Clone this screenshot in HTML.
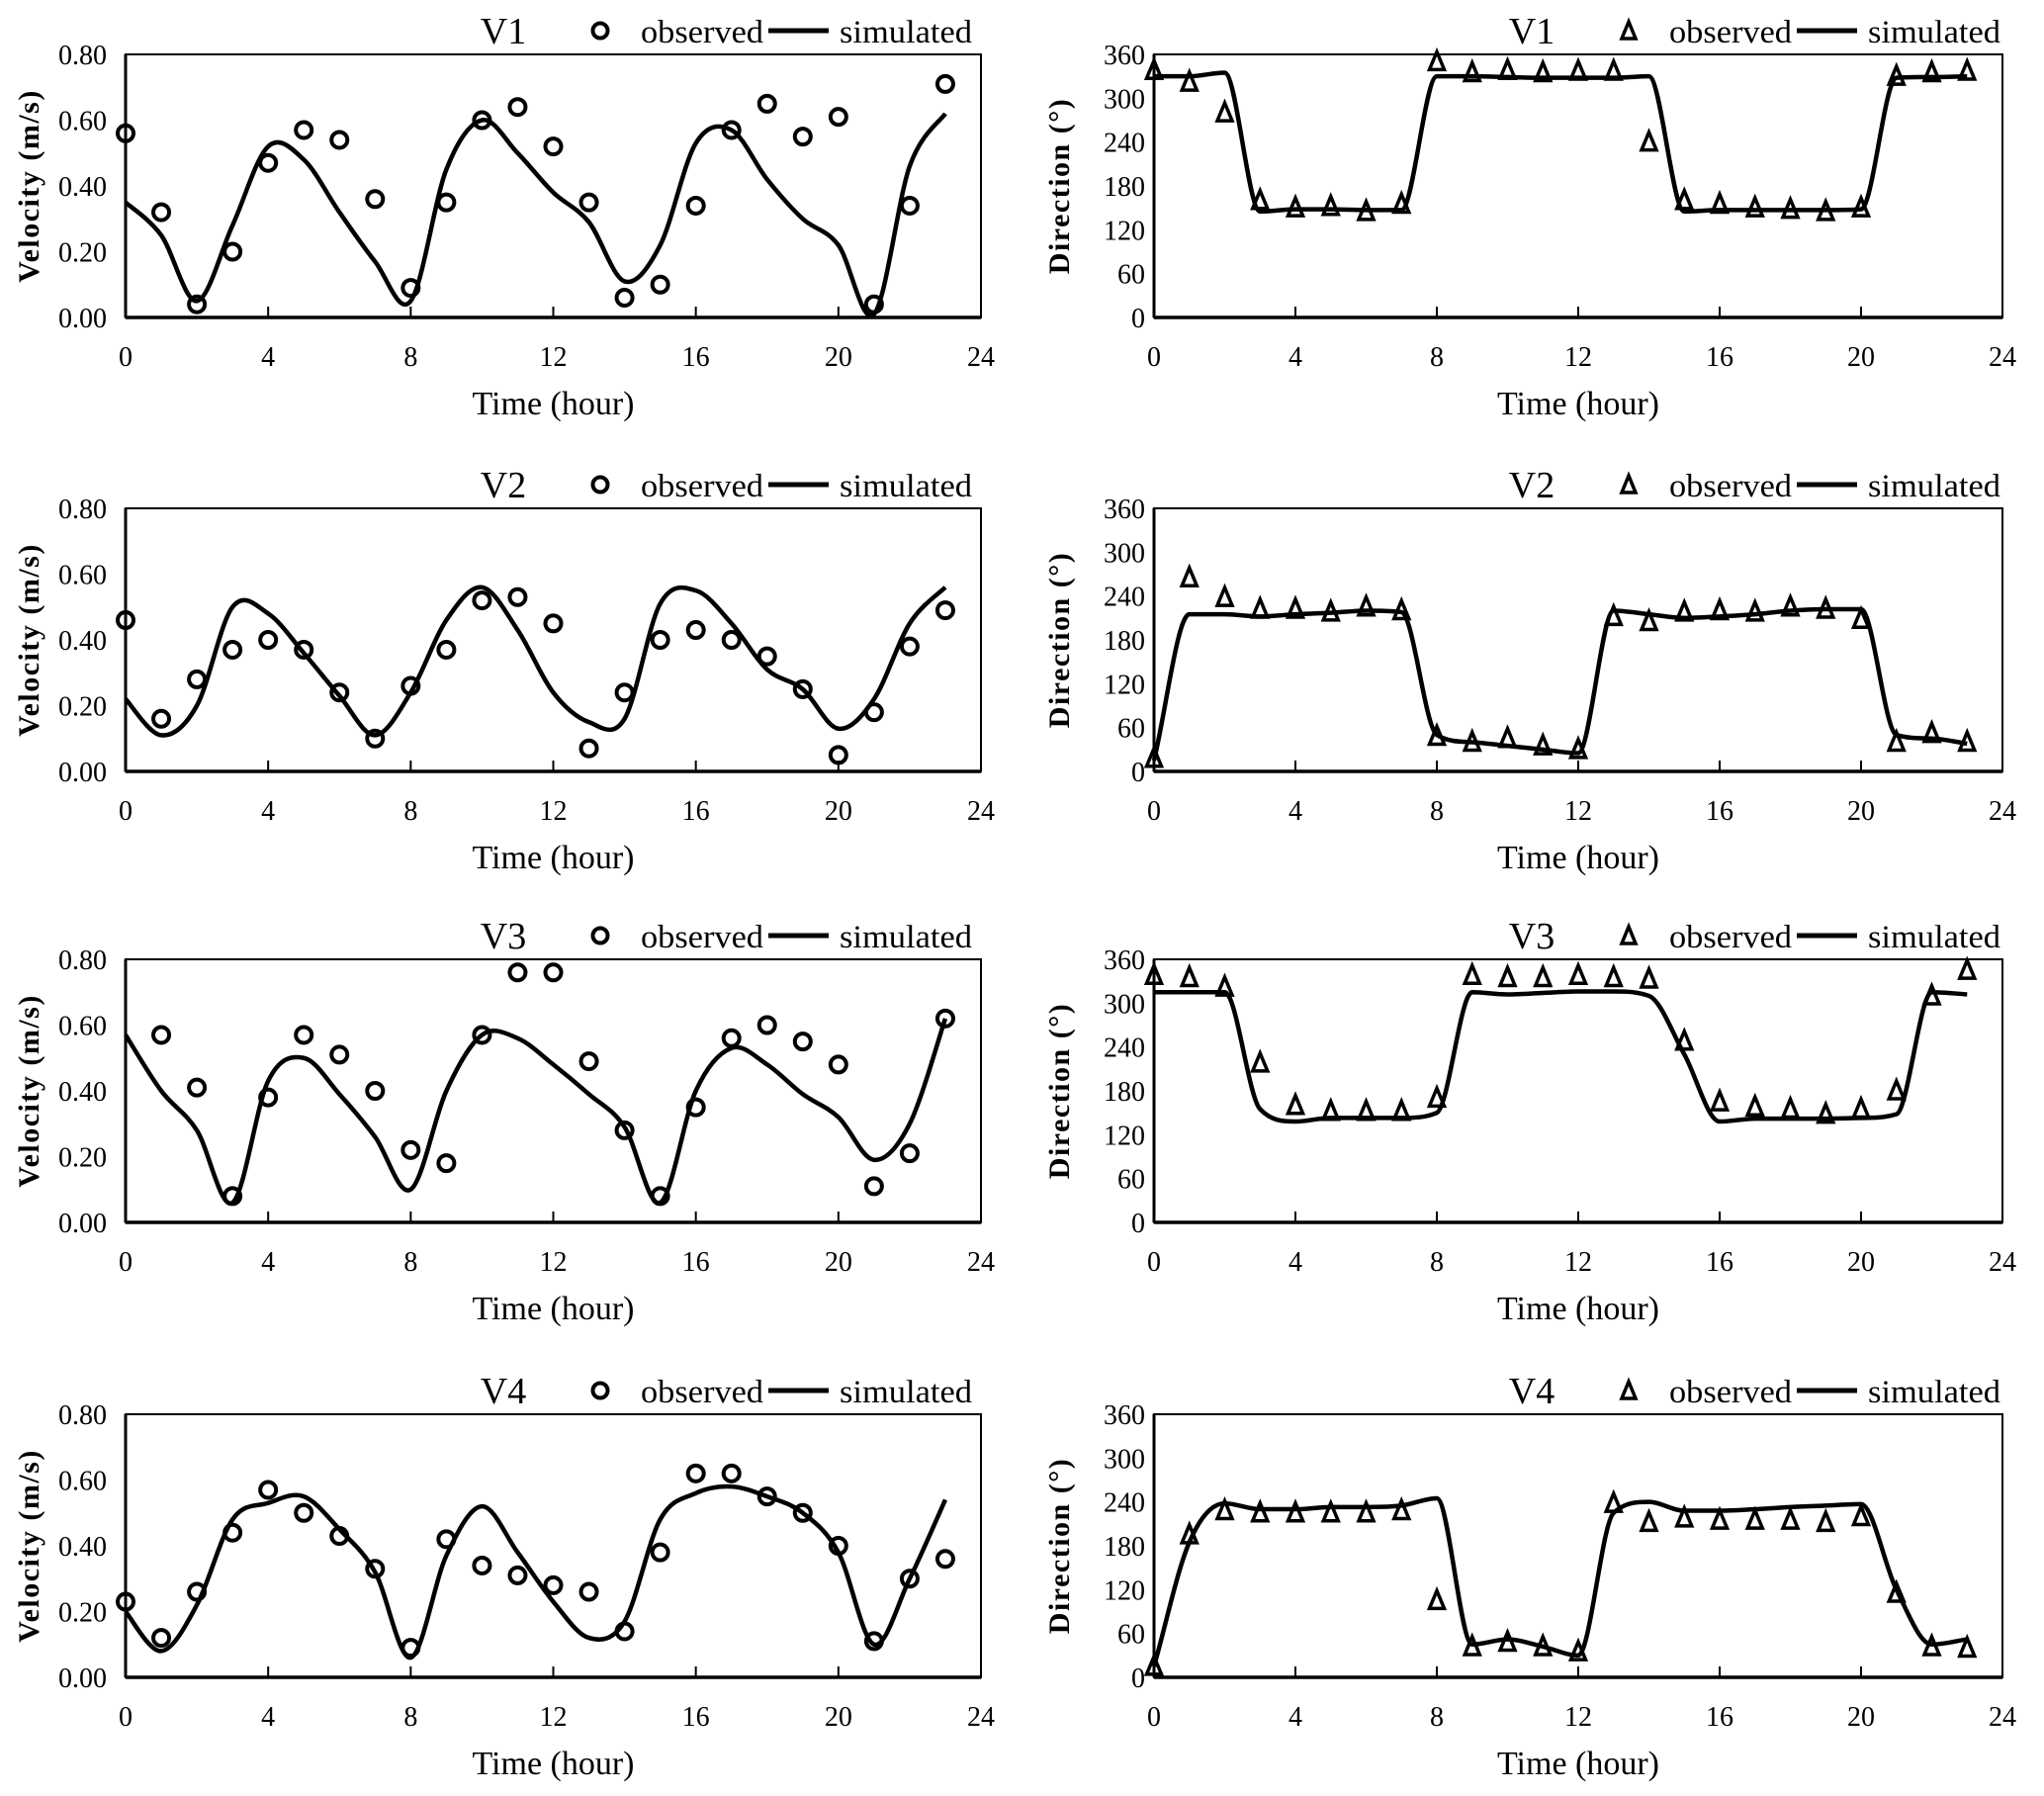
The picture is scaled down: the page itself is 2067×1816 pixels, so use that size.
<!DOCTYPE html>
<html><head><meta charset="utf-8"><style>
html,body{margin:0;padding:0;background:#fff}
svg{display:block}
text{font-family:"Liberation Serif",serif;fill:#000}
</style></head><body>
<svg id="chart" width="2067" height="1816" viewBox="0 0 2067 1816" xmlns="http://www.w3.org/2000/svg"></svg>
<script>
const hours = [0,1,2,3,4,5,6,7,8,9,10,11,12,13,14,15,16,17,18,19,20,21,22,23];
const stationNames = ["V1","V2","V3","V4"];
const velTicks = ["0.00","0.20","0.40","0.60","0.80"];
const dirTicks = ["0","60","120","180","240","300","360"];
const xTicks = [0,4,8,12,16,20,24];

const velObsV1 = [0.56,0.32,0.04,0.20,0.47,0.57,0.54,0.36,0.09,0.35,0.60,0.64,0.52,0.35,0.06,0.10,0.34,0.57,0.65,0.55,0.61,0.04,0.34,0.71];
const velSimV1 = [0.35,0.25,0.05,0.28,0.52,0.48,0.32,0.17,0.05,0.45,0.60,0.50,0.38,0.29,0.11,0.22,0.53,0.57,0.42,0.30,0.22,0.01,0.46,0.62];
const velObsV2 = [0.46,0.16,0.28,0.37,0.40,0.37,0.24,0.10,0.26,0.37,0.52,0.53,0.45,0.07,0.24,0.40,0.43,0.40,0.35,0.25,0.05,0.18,0.38,0.49];
const velSimV2 = [0.22,0.11,0.20,0.50,0.48,0.36,0.23,0.11,0.24,0.46,0.56,0.43,0.24,0.15,0.16,0.51,0.55,0.45,0.31,0.25,0.13,0.22,0.45,0.56];
const velObsV3 = [null,0.57,0.41,0.08,0.38,0.57,0.51,0.40,0.22,0.18,0.57,0.76,0.76,0.49,0.28,0.08,0.35,0.56,0.60,0.55,0.48,0.11,0.21,0.62];
const velSimV3 = [0.57,0.40,0.28,0.06,0.43,0.50,0.39,0.26,0.10,0.40,0.57,0.56,0.48,0.39,0.29,0.06,0.40,0.53,0.48,0.39,0.32,0.19,0.30,0.62];
const velObsV4 = [0.23,0.12,0.26,0.44,0.57,0.50,0.43,0.33,0.09,0.42,0.34,0.31,0.28,0.26,0.14,0.38,0.62,0.62,0.55,0.50,0.40,0.11,0.30,0.36];
const velSimV4 = [0.20,0.08,0.22,0.48,0.53,0.55,0.45,0.32,0.06,0.37,0.52,0.38,0.23,0.12,0.17,0.48,0.56,0.58,0.55,0.50,0.38,0.10,0.30,0.54];

const dirObsV1 = [338,322,280,160,150,152,145,155,350,335,338,335,337,337,240,160,155,150,148,145,150,330,335,337];
const dirSimV1 = [330,330,335,145,148,148,147,147,330,330,329,328,328,328,330,145,147,147,147,147,148,328,329,330];
const dirObsV2 = [18,265,238,222,222,218,225,220,48,40,45,35,30,212,205,218,220,218,225,222,208,40,52,40];
const dirSimV2 = [15,215,215,212,215,217,220,218,50,40,35,30,25,220,215,210,212,215,220,222,222,50,45,38];
const dirObsV3 = [338,335,322,218,160,152,152,152,170,338,335,335,338,335,333,248,165,158,155,148,155,180,310,345];
const dirSimV3 = [315,315,315,155,138,143,143,143,150,315,312,314,316,316,310,230,138,142,142,142,143,148,315,312];
const dirObsV4 = [15,195,228,225,225,225,225,228,105,42,48,42,35,238,212,218,215,215,215,212,220,115,42,40];
const dirSimV4 = [15,185,238,230,230,233,233,235,245,45,52,42,30,225,240,228,228,230,233,235,237,120,45,52];

const velObs = [velObsV1,velObsV2,velObsV3,velObsV4];
const velSim = [velSimV1,velSimV2,velSimV3,velSimV4];
const dirObs = [dirObsV1,dirObsV2,dirObsV3,dirObsV4];
const dirSim = [dirSimV1,dirSimV2,dirSimV3,dirSimV4];

const NS = "http://www.w3.org/2000/svg";
const svg = document.getElementById("chart");
function mk(tag, attrs, parent){
  const e = document.createElementNS(NS, tag);
  for (const k in attrs) e.setAttribute(k, attrs[k]);
  (parent||svg).appendChild(e);
  return e;
}
const rowTops = [55, 514, 970, 1430];
const PH = 266;

function catmull(P){
  let d = `M${P[0][0]},${P[0][1]}`;
  for (let i=0;i<P.length-1;i++){
    const p0=P[Math.max(0,i-1)], p1=P[i], p2=P[i+1], p3=P[Math.min(P.length-1,i+2)];
    const c1=[p1[0]+(p2[0]-p0[0])/6, p1[1]+(p2[1]-p0[1])/6];
    const c2=[p2[0]-(p3[0]-p1[0])/6, p2[1]-(p3[1]-p1[1])/6];
    d += ` C${c1[0]},${c1[1]} ${c2[0]},${c2[1]} ${p2[0]},${p2[1]}`;
  }
  return d;
}
function monotone(P){
  const n=P.length, dx=[], s=[], m=[];
  for (let i=0;i<n-1;i++){ dx[i]=P[i+1][0]-P[i][0]; s[i]=(P[i+1][1]-P[i][1])/dx[i]; }
  m[0]=s[0]; m[n-1]=s[n-2];
  for (let i=1;i<n-1;i++){ m[i] = (s[i-1]*s[i]<=0) ? 0 : (s[i-1]+s[i])/2; }
  for (let i=0;i<n-1;i++){
    if (s[i]===0){ m[i]=0; m[i+1]=0; continue; }
    const a=m[i]/s[i], b=m[i+1]/s[i], h=a*a+b*b;
    if (h>9){ const t=3/Math.sqrt(h); m[i]=t*a*s[i]; m[i+1]=t*b*s[i]; }
  }
  let d = `M${P[0][0]},${P[0][1]}`;
  for (let i=0;i<n-1;i++){
    const h=dx[i]/3;
    d += ` C${P[i][0]+h},${P[i][1]+m[i]*h} ${P[i+1][0]-h},${P[i+1][1]-m[i+1]*h} ${P[i+1][0]},${P[i+1][1]}`;
  }
  return d;
}

function panel(row, isDir){
  const x0 = isDir ? 1167 : 127, x1 = isDir ? 2025 : 992;
  const top = rowTops[row], bot = top + PH;
  const ymax = isDir ? 360 : 0.8;
  const xs = h => x0 + (h/24)*(x1-x0);
  const ys = v => bot - (v/ymax)*(bot-top);
  const g = mk("g", {});
  
  
  const frame = mk("rect", {x:x0,y:top,width:x1-x0,height:PH,fill:"none",stroke:"#000","stroke-width":2}, g);
  
  
  const xa = mk("line", {x1:x0,y1:bot,x2:x1,y2:bot,stroke:"#000","stroke-width":3.5}, g);
  
  
  const ya = mk("line", {x1:x0,y1:top,x2:x0,y2:bot,stroke:"#000","stroke-width":3}, g);
  
  
  xTicks.forEach(t => {
    if (t>0 && t<24){
      const tl = mk("line", {x1:xs(t),y1:bot,x2:xs(t),y2:bot-11,stroke:"#000","stroke-width":2}, g);
      
      
    }
    const tx = mk("text", {x:xs(t),y:bot+49,"font-size":28,"text-anchor":"middle"}, g);
    tx.textContent = t;
    
    
  });
  const labs = isDir ? dirTicks : velTicks;
  labs.forEach(l => {
    const ty = mk("text", {x:x0-(isDir?9:19),y:ys(parseFloat(l))+10,"font-size":28,"text-anchor":"end"}, g);
    ty.textContent = l;
    
    
  });
  const xt = mk("text", {x:(x0+x1)/2,y:bot+98,"font-size":34,"text-anchor":"middle"}, g);
  xt.textContent = "Time (hour)";
  
  
  const yc = (top+bot)/2, yx = x0 - (isDir?86:88);
  const yt = mk("text", {x:yx,y:yc,"font-size":30,"font-weight":"bold","letter-spacing":"1.5","text-anchor":"middle",transform:`rotate(-90 ${yx} ${yc})`}, g);
  yt.textContent = isDir ? "Direction (°)" : "Velocity (m/s)";
  
  
  // legend
  const tt = mk("text", {x:x0+382,y:top-11,"font-size":38,"text-anchor":"middle"}, g);
  tt.textContent = stationNames[row];
  
  
  const lmx = x0+480, lmy = top-24;
  let lm;
  if (isDir) lm = mk("polygon", {points:`${lmx},${lmy-9} ${lmx-7},${lmy+8} ${lmx+7},${lmy+8}`,fill:"none",stroke:"#000","stroke-width":3.5}, g);
  else lm = mk("circle", {cx:lmx,cy:lmy,r:7.5,fill:"none",stroke:"#000","stroke-width":4}, g);
  
  
  const lo = mk("text", {x:x0+521,y:top-12,"font-size":33,textLength:124,lengthAdjust:"spacingAndGlyphs"}, g);
  lo.textContent = "observed";
  
  
  const ll = mk("line", {x1:x0+650,y1:lmy,x2:x0+711,y2:lmy,stroke:"#000","stroke-width":5}, g);
  
  
  const ls = mk("text", {x:x0+722,y:top-12,"font-size":33,textLength:134,lengthAdjust:"spacingAndGlyphs"}, g);
  ls.textContent = "simulated";
  
  
  const sim = isDir ? dirSim[row] : velSim[row];
  const P = hours.map((h,i)=>[xs(h), ys(sim[i])]);
  const d = isDir ? monotone(P) : catmull(P);
  const sp = mk("path", {d:d,fill:"none",stroke:"#000","stroke-width":4.5,"stroke-linejoin":"round"}, g);
  
  
  const obs = isDir ? dirObs[row] : velObs[row];
  hours.forEach((h,i) => {
    if (obs[i]===null) return;
    const cx = xs(h), cy = ys(obs[i]);
    let m;
    if (isDir) m = mk("polygon", {points:`${cx},${cy-10} ${cx-7.5},${cy+8} ${cx+7.5},${cy+8}`,fill:"none",stroke:"#000","stroke-width":3.5}, g);
    else m = mk("circle", {cx:cx,cy:cy,r:8,fill:"none",stroke:"#000","stroke-width":4}, g);
    
    
  });
}
for (let r=0;r<4;r++){ panel(r,false); panel(r,true); }
</script>
</body></html>
